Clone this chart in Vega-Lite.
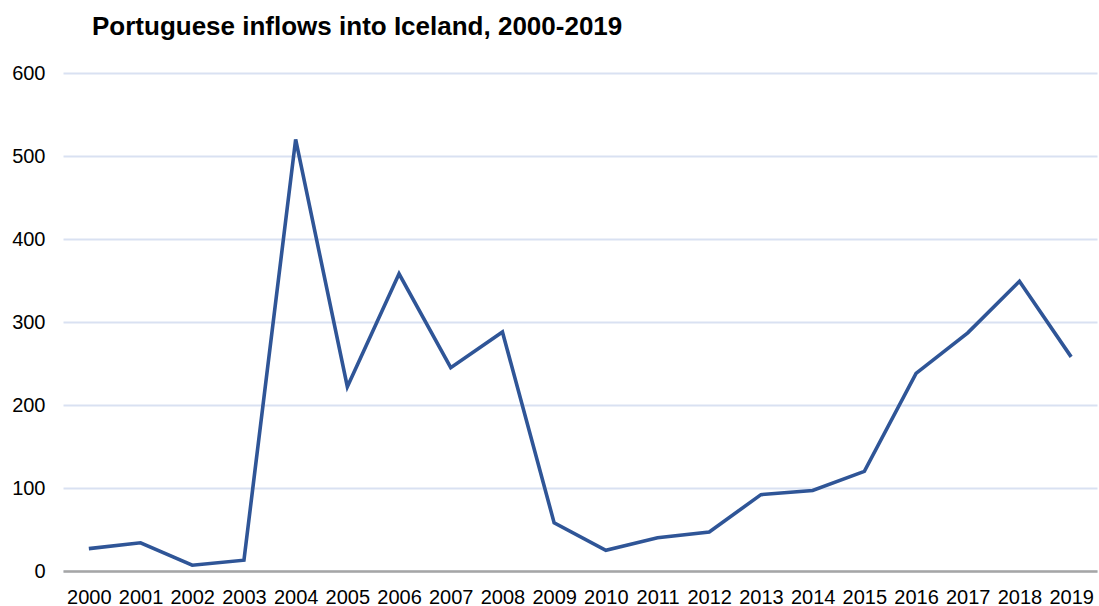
{
  "$schema": "https://vega.github.io/schema/vega-lite/v6.json",
  "width": 1034,
  "height": 498,
  "autosize": "none",
  "padding": {"left": 63, "top": 73, "right": 2, "bottom": 35},
  "background": "white",
  "config": {"view": {"stroke": null}, "font": "Liberation Sans"},
  "title": {
    "text": "Portuguese inflows into Iceland, 2000-2019",
    "anchor": "start",
    "frame": "group",
    "dx": 29,
    "offset": 23,
    "fontSize": 26,
    "fontWeight": "bold",
    "color": "#000000",
    "font": "Liberation Sans"
  },
  "data": {
    "values": [
      {"year": "2000", "inflow": 27},
      {"year": "2001", "inflow": 34},
      {"year": "2002", "inflow": 7},
      {"year": "2003", "inflow": 13},
      {"year": "2004", "inflow": 520},
      {"year": "2005", "inflow": 222},
      {"year": "2006", "inflow": 358},
      {"year": "2007", "inflow": 245},
      {"year": "2008", "inflow": 288},
      {"year": "2009", "inflow": 58},
      {"year": "2010", "inflow": 25},
      {"year": "2011", "inflow": 40},
      {"year": "2012", "inflow": 47},
      {"year": "2013", "inflow": 92},
      {"year": "2014", "inflow": 97},
      {"year": "2015", "inflow": 120},
      {"year": "2016", "inflow": 238},
      {"year": "2017", "inflow": 287},
      {"year": "2018", "inflow": 349},
      {"year": "2019", "inflow": 258}
    ]
  },
  "mark": {"type": "line", "color": "#2F5597", "strokeWidth": 3.6, "strokeJoin": "miter"},
  "encoding": {
    "x": {
      "field": "year",
      "type": "ordinal",
      "scale": {"type": "point", "padding": 0.5},
      "axis": {
        "title": null,
        "labelAngle": 0,
        "labelFontSize": 20,
        "labelColor": "#000000",
        "labelPadding": 16,
        "ticks": false,
        "domainColor": "#A6A6A6",
        "domainWidth": 2.5,
        "grid": false
      }
    },
    "y": {
      "field": "inflow",
      "type": "quantitative",
      "scale": {"domain": [0, 600], "nice": false},
      "axis": {
        "title": null,
        "values": [0, 100, 200, 300, 400, 500, 600],
        "labelFontSize": 20,
        "labelColor": "#000000",
        "labelPadding": 18,
        "ticks": false,
        "domain": false,
        "grid": true,
        "gridColor": "#D9E1F2",
        "gridWidth": 2
      }
    }
  }
}
